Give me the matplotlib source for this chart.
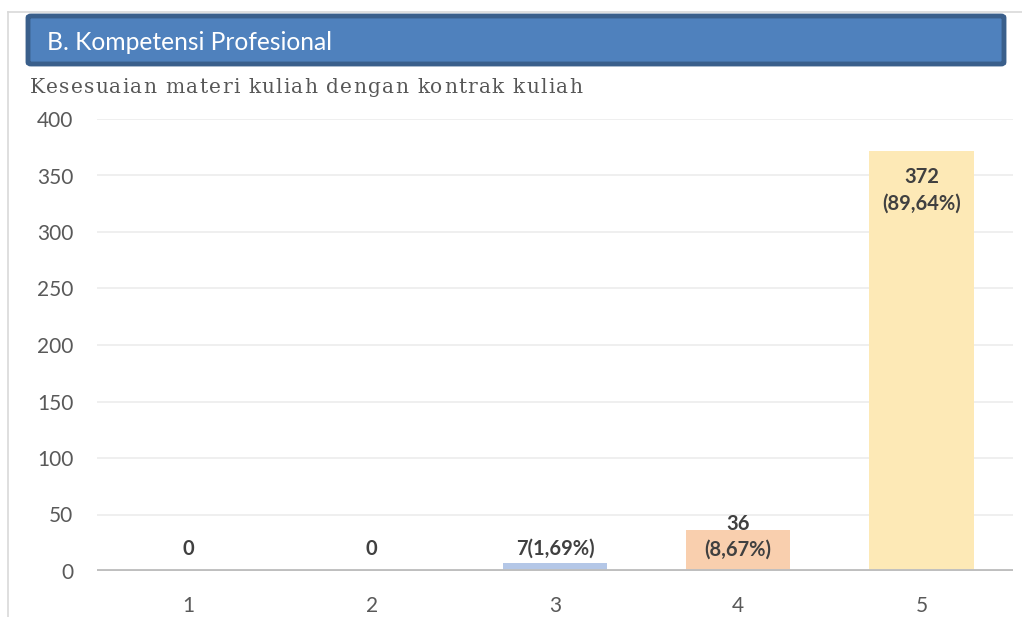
import matplotlib
matplotlib.use("Agg")
import matplotlib.pyplot as plt
from matplotlib.patches import FancyBboxPatch
from matplotlib.lines import Line2D
from matplotlib.font_manager import FontProperties

# ── Data ──────────────────────────────────────────────
categories = ["1", "2", "3", "4", "5"]
counts = [0, 0, 7, 36, 372]
labels = ["0", "0", "7(1,69%)", "36\n(8,67%)", "372\n(89,64%)"]
bar_colors = ["#b4c7e7", "#b4c7e7", "#b4c7e7", "#f9cfae", "#fde9b6"]

header = "B. Kompetensi Profesional"
subtitle = "Kesesuaian materi kuliah dengan kontrak kuliah"

plt.rcParams["font.family"] = ["Lato", "DejaVu Sans"]

W, H = 1022, 617
fig = plt.figure(figsize=(W / 100, H / 100), dpi=100)
renderer = fig.canvas.get_renderer()

# ── Frame + header ────────────────────────────────────
fig.add_artist(Line2D([8 / W, 1], [1 - 12 / H, 1 - 12 / H], color="#d9d9d9", lw=1.2))
fig.add_artist(Line2D([8 / W, 8 / W], [0, 1 - 12 / H], color="#d9d9d9", lw=1.2))

box = FancyBboxPatch((28 / W, 1 - 64 / H), 976 / W, 48 / H,
                     boxstyle="round,pad=0,rounding_size=0.003",
                     transform=fig.transFigure, facecolor="#4f81bd",
                     edgecolor="#3a5f8b", lw=3.5)
fig.add_artist(box)
fig.text(47 / W, 1 - 43 / H, header, color="white", fontsize=17.7, va="center", ha="left")


def tracked_text(x0, x1, y, s, prop, color):
    """Draw s between pixel x0 and x1 with even extra letter spacing."""
    bar_w, _, _ = renderer.get_text_width_height_descent("|", prop, ismath=False)

    def width(t):
        w, _, _ = renderer.get_text_width_height_descent(t + "|", prop, ismath=False)
        return w - bar_w

    full = width(s)
    track = (x1 - x0 - full) / (len(s) - 1)
    for i, ch in enumerate(s):
        if ch == " ":
            continue
        xp = x0 + width(s[:i]) + i * track
        fig.text(xp / W, 1 - y / H, ch, fontproperties=prop, color=color,
                 ha="left", va="baseline")


sub_prop = FontProperties(family="DejaVu Serif", size=14.5)
tracked_text(30, 582, 93, subtitle, sub_prop, "#575757")

# ── Axes ──────────────────────────────────────────────
ax = fig.add_axes([97 / W, 1 - 571 / H, 916 / W, 452 / H])
x = list(range(len(categories)))
ax.bar(x, counts, width=0.57, color=bar_colors, zorder=2)
ax.set_xlim(-0.5, len(categories) - 0.5)
ax.set_ylim(0, 400)
ax.set_yticks(range(0, 401, 50))
ax.set_xticks(x)
ax.set_xticklabels(categories)
ax.yaxis.grid(True, color="#ececec", lw=1.2, zorder=0)
ax.set_axisbelow(True)
for s in ax.spines.values():
    s.set_visible(False)
ax.axhline(0, color="#bfbfbf", lw=2.8, zorder=3)
ax.tick_params(axis="both", length=0, labelsize=15, labelcolor="#595959")
ax.tick_params(axis="y", pad=17)
ax.tick_params(axis="x", pad=18)

# data labels
label_pos = [("baseline", 11.5), ("baseline", 11.5), ("baseline", 5.8),
             ("center", -4.7), ("center", -28.7)]
for xi, v, lab, (va, dy) in zip(x, counts, labels, label_pos):
    ax.annotate(lab, (xi, v), xytext=(0, dy), textcoords="offset points",
                ha="center", va=va, fontsize=14.5, fontweight="bold",
                color="#404040", linespacing=1.4, zorder=4)

fig.savefig("out.png", dpi=100)
